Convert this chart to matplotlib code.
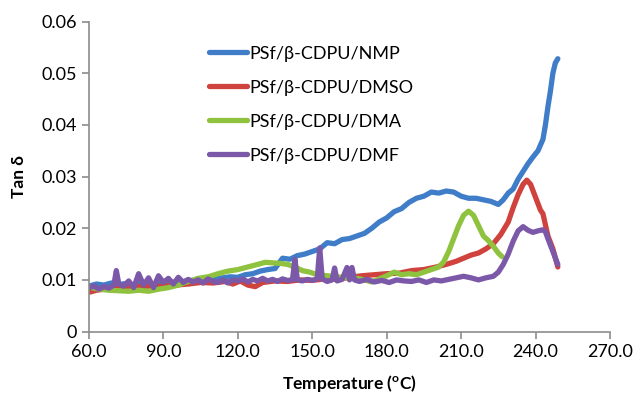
import matplotlib

matplotlib.use("Agg")
import matplotlib.pyplot as plt

plt.rcParams["font.family"] = ["Lato", "DejaVu Sans"]
plt.rcParams["mathtext.fontset"] = "custom"
plt.rcParams["mathtext.rm"] = "Lato:bold"

# tan delta curves (temperature in degC)
nmp_t = [60, 63, 66, 69, 72, 75, 78, 81, 84, 87, 90, 93, 96, 99, 102, 105, 108, 111, 114,
         117, 120, 123, 126, 129, 132, 135, 138, 141, 144, 147, 150, 153, 156, 159, 162, 165,
         168, 171, 174, 177, 180, 183, 186, 189, 192, 195, 198, 201, 204, 207, 210, 213, 216,
         219, 222, 225, 227, 229, 231, 233, 235, 237, 239, 241, 243, 244, 245, 246, 247, 248, 249]
nmp_v = [0.0088, 0.0092, 0.0090, 0.0094, 0.0091, 0.0093, 0.0090, 0.0094, 0.0089, 0.0092,
         0.0093, 0.0096, 0.0094, 0.0098, 0.0097, 0.0100, 0.0101, 0.0103, 0.0104, 0.0106,
         0.0105, 0.0110, 0.0112, 0.0117, 0.0120, 0.0122, 0.0142, 0.0140, 0.0147, 0.0150,
         0.0155, 0.0160, 0.0172, 0.0170, 0.0178, 0.0180, 0.0185, 0.0190, 0.0200, 0.0212,
         0.0220, 0.0232, 0.0238, 0.0250, 0.0258, 0.0262, 0.0270, 0.0268, 0.0272, 0.0270,
         0.0262, 0.0258, 0.0258, 0.0255, 0.0252, 0.0246, 0.0255, 0.0268, 0.0276, 0.0295,
         0.0310, 0.0325, 0.0338, 0.0350, 0.0372, 0.0400, 0.0435, 0.0465, 0.0500, 0.0520, 0.0528]

dmso_t = [60, 63, 66, 70, 75, 80, 85, 90, 95, 100, 105, 110, 115, 118, 121, 124, 127, 130,
          135, 140, 145, 150, 155, 160, 165, 170, 175, 180, 185, 190, 195, 200, 204, 208, 211,
          214, 217, 220, 223, 226, 229, 231, 233, 235, 236.5, 238, 240, 242, 243, 245, 247, 249]
dmso_v = [0.0076, 0.0080, 0.0082, 0.0085, 0.0086, 0.0087, 0.0088, 0.0088, 0.0090, 0.0092,
          0.0095, 0.0094, 0.0097, 0.0092, 0.0098, 0.0090, 0.0087, 0.0095, 0.0098, 0.0097,
          0.0100, 0.0099, 0.0102, 0.0101, 0.0105, 0.0108, 0.0110, 0.0112, 0.0113, 0.0118,
          0.0120, 0.0125, 0.0130, 0.0136, 0.0142, 0.0148, 0.0152, 0.0160, 0.0170, 0.0188,
          0.0212, 0.0240, 0.0265, 0.0285, 0.0293, 0.0285, 0.0260, 0.0235, 0.0228, 0.0185,
          0.0160, 0.0125]

dma_t = [60, 64, 68, 72, 76, 80, 84, 88, 92, 96, 100, 104, 108, 112, 116, 120, 124, 128, 131,
         134, 137, 140, 143, 146, 149, 152, 156, 160, 164, 168, 171, 174, 177, 180, 183, 186,
         189, 192, 195, 198, 201, 203, 205, 207, 209, 211, 213, 215, 217, 219, 221, 223, 225, 226.5]
dma_v = [0.0086, 0.0082, 0.0080, 0.0079, 0.0078, 0.0080, 0.0078, 0.0082, 0.0085, 0.0090,
         0.0097, 0.0103, 0.0106, 0.0112, 0.0117, 0.0120, 0.0125, 0.0130, 0.0134, 0.0133,
         0.0132, 0.0130, 0.0125, 0.0118, 0.0115, 0.0110, 0.0108, 0.0106, 0.0104, 0.0103,
         0.0100, 0.0096, 0.0102, 0.0108, 0.0115, 0.0110, 0.0112, 0.0110, 0.0115, 0.0120,
         0.0125, 0.0135, 0.0155, 0.0180, 0.0205, 0.0225, 0.0233, 0.0225, 0.0205, 0.0185,
         0.0176, 0.0165, 0.0152, 0.0145]

dmf_t = [60, 62, 64, 66, 68, 70, 71, 72, 74, 76, 78, 80, 82, 84, 86, 88, 90, 92, 94, 96, 98,
         100, 102, 104, 106, 108, 110, 112, 114, 116, 118, 120, 122, 124, 126, 128, 130, 132,
         134, 136, 138, 140, 142, 143, 144, 146, 148, 150, 152, 153, 154, 156, 158, 159, 160,
         162, 164, 165, 166, 167, 169, 172, 175, 178, 181, 184, 187, 190, 193, 196, 199, 202,
         205, 208, 211, 214, 217, 220, 223, 225, 227, 229, 231, 233, 235, 237, 239, 241, 243,
         244, 245, 247, 249]
dmf_v = [0.0085, 0.0088, 0.0082, 0.0087, 0.0084, 0.0090, 0.0118, 0.0092, 0.0088, 0.0098,
         0.0085, 0.0112, 0.0090, 0.0104, 0.0085, 0.0108, 0.0095, 0.0103, 0.0092, 0.0105,
         0.0095, 0.0101, 0.0096, 0.0100, 0.0094, 0.0102, 0.0097, 0.0095, 0.0100, 0.0094,
         0.0100, 0.0098, 0.0102, 0.0096, 0.0101, 0.0098, 0.0103, 0.0098, 0.0101, 0.0097,
         0.0102, 0.0099, 0.0100, 0.0140, 0.0100, 0.0098, 0.0101, 0.0099, 0.0102, 0.0162,
         0.0102, 0.0097, 0.0100, 0.0123, 0.0098, 0.0101, 0.0124, 0.0100, 0.0124, 0.0100,
         0.0097, 0.0101, 0.0096, 0.0099, 0.0095, 0.0100, 0.0098, 0.0097, 0.0100, 0.0095,
         0.0100, 0.0098, 0.0101, 0.0104, 0.0107, 0.0104, 0.0100, 0.0104, 0.0107, 0.0115,
         0.0130, 0.0150, 0.0175, 0.0195, 0.0203, 0.0196, 0.0192, 0.0195, 0.0197, 0.0193,
         0.0180, 0.0155, 0.0130]

series = [
    ("PSf/β-CDPU/NMP", nmp_t, nmp_v, "#3f7dc9"),
    ("PSf/β-CDPU/DMSO", dmso_t, dmso_v, "#d0423d"),
    ("PSf/β-CDPU/DMA", dma_t, dma_v, "#8fc23f"),
    ("PSf/β-CDPU/DMF", dmf_t, dmf_v, "#7c58a8"),
]

x_ticks = [60, 90, 120, 150, 180, 210, 240, 270]
y_ticks = [0, 0.01, 0.02, 0.03, 0.04, 0.05, 0.06]

fig = plt.figure(figsize=(6.36, 3.99), dpi=100)
ax = fig.add_axes([0.14, 0.169, 0.819, 0.777])

for label, t, v, color in series:
    ax.plot(t, v, color=color, linewidth=3.8, label=label, solid_capstyle="round",
            solid_joinstyle="round")

ax.set_xlim(60, 270)
ax.set_ylim(0, 0.06)
ax.set_xticks(x_ticks)
ax.set_xticklabels([f"{t:.1f}" for t in x_ticks])
ax.set_yticks(y_ticks)
ax.set_yticklabels(["0"] + [f"{v:.2f}" for v in y_ticks[1:]])
ax.tick_params(labelsize=13, color="#8c8c8c", length=5, width=1.2, pad=4)
for side in ("top", "right"):
    ax.spines[side].set_visible(False)
for side in ("left", "bottom"):
    ax.spines[side].set_color("#8c8c8c")
    ax.spines[side].set_linewidth(1.2)

ax.set_xlabel(r"Temperature ($^{\rm o}$C)", fontsize=12.5, fontweight="bold", labelpad=9)
ax.set_ylabel("Tan δ", fontsize=12.5, fontweight="bold", labelpad=10)

ax.legend(loc="upper left", bbox_to_anchor=(0.2, 0.975), frameon=False, fontsize=13,
          handlelength=2.1, handletextpad=0.1, labelspacing=1.0)

fig.savefig("out.png", dpi=100)
